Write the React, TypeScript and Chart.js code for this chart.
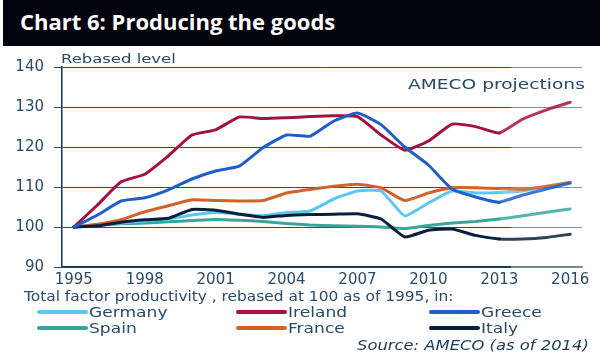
import React, { useEffect, useRef } from "react";
import { Chart, registerables } from "chart.js";

Chart.register(...registerables);

const years = ["1995","1996","1997","1998","1999","2000","2001","2002","2003","2004","2005","2006","2007","2008","2009","2010","2011","2012","2013","2014","2015","2016"];
const germany = [100, 100.5, 101, 101.5, 102, 103, 103.6, 103.2, 102.8, 103.6, 104, 107, 109, 109, 102.8, 106, 109, 108.5, 108.6, 109, 110, 111];
const ireland = [100, 105.5, 111.3, 113.2, 117.8, 123, 124.3, 127.5, 127.1, 127.3, 127.6, 127.8, 127.6, 123, 119.2, 121.5, 125.7, 125.1, 123.5, 127, 129.3, 131.2];
const greece = [100, 103, 106.5, 107.3, 109.3, 112, 114, 115.2, 119.8, 123, 122.7, 126.5, 128.5, 125.6, 120, 115.5, 109.5, 107.5, 106.2, 108, 109.5, 111];
const spain = [100, 100.4, 100.8, 101, 101.3, 101.6, 101.9, 101.7, 101.4, 100.9, 100.5, 100.3, 100.2, 100, 99.6, 100.4, 101, 101.4, 102, 102.8, 103.7, 104.5];
const france = [100, 100.7, 101.8, 103.8, 105.3, 106.8, 106.6, 106.5, 106.6, 108.5, 109.4, 110.2, 110.7, 109.8, 106.6, 108.5, 109.8, 109.8, 109.6, 109.4, 110.2, 111.2];
const italy = [100, 100.3, 101.2, 101.8, 102.2, 104.4, 104.2, 103.2, 102.4, 102.9, 103.1, 103.2, 103.3, 102, 97.5, 99.2, 99.5, 97.9, 97, 97, 97.4, 98.2];

const yMin = 90;
const yMax = 140;
const yStep = 10;
const projectionStartIndex = 18;

const titleText = "Chart 6: Producing the goods";
const yAxisTitle = "Rebased level";
const projectionLabel = "AMECO projections";
const subtitleText = "Total factor productivity , rebased at 100 as of 1995, in:";
const sourceText = "Source: AMECO (as of 2014)";

const C = {
  germany: "#5cc8f2",
  ireland: "#a3123f",
  greece: "#1f5fc6",
  spain: "#3aa59b",
  france: "#d0632b",
  italy: "#0b1f3d",
};

const textColor = "#2a4a66";

const legendItems = [
  { label: "Germany", color: C.germany, col: 0, row: 0 },
  { label: "Ireland", color: C.ireland, col: 1, row: 0 },
  { label: "Greece", color: C.greece, col: 2, row: 0 },
  { label: "Spain", color: C.spain, col: 0, row: 1 },
  { label: "France", color: C.france, col: 1, row: 1 },
  { label: "Italy", color: C.italy, col: 2, row: 1 },
];

function mk(label: string, data: number[], color: string) {
  return {
    label,
    data,
    borderColor: color,
    backgroundColor: color,
    borderWidth: 3,
    pointRadius: 0,
    tension: 0.15,
    fill: false,
    borderCapStyle: "round" as const,
    borderJoinStyle: "round" as const,
    segment: {
      borderColor: (ctx: any) => (ctx.p0DataIndex >= projectionStartIndex ? color + "d8" : color),
    },
  };
}

const fadePlugin = {
  id: "projFade",
  beforeDatasetsDraw(chart: any) {
    const x = chart.scales.x;
    const a = chart.chartArea;
    const xs = (x.getPixelForValue(projectionStartIndex) + x.getPixelForValue(projectionStartIndex + 1)) / 2;
    const ctx = chart.ctx;
    ctx.save();
    ctx.fillStyle = "rgba(255,255,255,0.4)";
    ctx.fillRect(xs, a.top - 2, a.right - xs + 2, a.bottom - a.top + 4);
    ctx.restore();
  },
};

function Txt(props: { x: number; y: number; size: number; sx?: number; color?: string; bold?: boolean; italic?: boolean; family?: string; children: any }) {
  return (
    <div
      style={{
        position: "absolute",
        left: props.x,
        top: props.y - props.size / 2,
        fontSize: props.size,
        lineHeight: 1 + "",
        height: props.size,
        whiteSpace: "nowrap",
        fontFamily: props.family || "'DejaVu Sans', sans-serif",
        fontWeight: props.bold ? 700 : 400,
        fontStyle: props.italic ? "italic" : "normal",
        color: props.color || textColor,
        transform: `scaleX(${props.sx || 1})`,
        transformOrigin: "left center",
      }}
    >
      {props.children}
    </div>
  );
}

export default function App() {
  const ref = useRef<HTMLCanvasElement | null>(null);

  useEffect(() => {
    if (!ref.current) return;
    const chart = new Chart(ref.current, {
      type: "line",
      data: {
        labels: years,
        datasets: [
          mk("Greece", greece, C.greece),
          mk("Italy", italy, C.italy),
          mk("Ireland", ireland, C.ireland),
          mk("France", france, C.france),
          mk("Germany", germany, C.germany),
          mk("Spain", spain, C.spain),
        ],
      },
      options: {
        animation: false,
        responsive: false,
        maintainAspectRatio: false,
        layout: { padding: { left: 0, right: 18, top: 67, bottom: 0 } },
        plugins: { legend: { display: false }, tooltip: { enabled: false }, title: { display: false } },
        scales: {
          x: {
            type: "category",
            offset: true,
            grid: { display: false, drawTicks: false },
            border: { display: true, color: "#123450", width: 1.5 },
            ticks: {
              autoSkip: false,
              maxRotation: 0,
              padding: 4,
              color: textColor,
              font: { family: "'DejaVu Sans'", size: 15 },
              callback: (_v: any, i: number) => (i % 3 === 0 ? years[i] : ""),
            },
            afterFit: (s: any) => {
              s.height = 33;
            },
          },
          y: {
            min: yMin,
            max: yMax,
            grid: { color: "#24506a", lineWidth: 1, tickLength: 8, drawTicks: true },
            border: { display: true, color: "#123450", width: 1.5 },
            ticks: {
              stepSize: yStep,
              padding: 10,
              color: textColor,
              font: { family: "'DejaVu Sans'", size: 15 },
            },
            afterFit: (s: any) => {
              s.width = 62;
            },
          },
        },
      },
      plugins: [fadePlugin],
    } as any);
    return () => chart.destroy();
  }, []);

  return (
    <div style={{ position: "absolute", left: 0, top: 0, width: 600, height: 360, background: "#fff", overflow: "hidden" }}>
      <div style={{ position: "absolute", left: 3, top: 0, width: 597, height: 46, background: "#02020c" }} />
      <Txt x={20} y={21} size={22} bold color="#ffffff" family="'Open Sans', sans-serif">
        {titleText}
      </Txt>
      <canvas ref={ref} width={600} height={300} style={{ position: "absolute", left: 0, top: 0, width: 600, height: 300 }} />
      <Txt x={61} y={59} size={12} sx={1.37}>
        {yAxisTitle}
      </Txt>
      <Txt x={408} y={84} size={14} sx={1.33}>
        {projectionLabel}
      </Txt>
      <Txt x={24} y={296} size={14} sx={1.1}>
        {subtitleText}
      </Txt>
      {legendItems.map((it) => {
        const lx = [37, 236, 429][it.col];
        const ly = [312, 328][it.row];
        return (
          <React.Fragment key={it.label}>
            <div style={{ position: "absolute", left: lx, top: ly - 2, width: 51, height: 4, background: it.color, borderRadius: 2 }} />
            <Txt x={lx + 52} y={ly} size={14} sx={1.22}>
              {it.label}
            </Txt>
          </React.Fragment>
        );
      })}
      <Txt x={357} y={345} size={14} italic sx={1.17} color="#1e3a56">
        {sourceText}
      </Txt>
    </div>
  );
}
